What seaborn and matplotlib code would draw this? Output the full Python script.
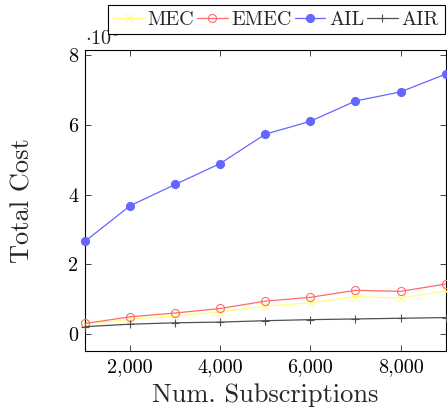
import numpy as np
import pandas as pd
import matplotlib
matplotlib.use('Agg')
import matplotlib.pyplot as plt
import seaborn as sns
from matplotlib.ticker import FuncFormatter

# ==========================================
# data (in units of 10^5)
# ==========================================
subscriptions = [1000, 2000, 3000, 4000, 5000, 6000, 7000, 8000, 9000]
cost_mec = [0.30, 0.43, 0.53, 0.64, 0.81, 0.90, 1.08, 1.04, 1.24]
cost_emec = [0.31, 0.50, 0.61, 0.74, 0.95, 1.06, 1.26, 1.23, 1.44]
cost_ail = [2.66, 3.68, 4.29, 4.89, 5.73, 6.10, 6.68, 6.94, 7.45]
cost_air = [0.22, 0.29, 0.33, 0.35, 0.39, 0.42, 0.44, 0.46, 0.48]

methods = ['MEC', 'EMEC', 'AIL', 'AIR']
df = pd.DataFrame({
    'Subscriptions': subscriptions * 4,
    'Cost': cost_mec + cost_emec + cost_ail + cost_air,
    'Method': [m for m in methods for _ in subscriptions],
})

# ==========================================
# style
# ==========================================
sns.set_style('ticks')
plt.rcParams['font.family'] = ['cmr10', 'DejaVu Serif']
plt.rcParams['mathtext.fontset'] = 'cm'
plt.rcParams['axes.formatter.use_mathtext'] = True
plt.rcParams['axes.unicode_minus'] = False

palette = {'MEC': '#ffff7a', 'EMEC': '#ff6b6b', 'AIL': '#6666ff', 'AIR': '#505050'}
markers = {'MEC': 'x', 'EMEC': 'o', 'AIL': 'o', 'AIR': '+'}

fig = plt.figure(figsize=(4.47, 4.15), dpi=100)
ax = fig.add_axes([0.190, 0.154, 0.807, 0.7255])

for m in methods:
    sub = df[df['Method'] == m]
    face = 'none' if m == 'EMEC' else palette[m]
    sns.lineplot(data=sub, x='Subscriptions', y='Cost', ax=ax, color=palette[m],
                 marker=markers[m], markersize=5.8 if m in ('EMEC', 'AIL') else 5.5,
                 markerfacecolor=face, markeredgecolor=palette[m], markeredgewidth=0.8,
                 linewidth=0.9, label=m, clip_on=False, zorder=3)

ax.set_xlim(1000, 9000)
ax.set_ylim(-0.48, 8.14)
ax.set_xticks([2000, 4000, 6000, 8000])
ax.set_yticks([0, 2, 4, 6, 8])
ax.xaxis.set_major_formatter(FuncFormatter(lambda v, p: f'{int(v):,}'))
ax.yaxis.set_major_formatter(FuncFormatter(lambda v, p: f'{int(v)}'))

ax.tick_params(direction='in', top=True, right=True, length=4, width=0.6,
               labelsize=14.5, colors='#222222', labelcolor='black', pad=5)
for s in ax.spines.values():
    s.set_linewidth(0.8)
    s.set_color('black')

ax.set_xlabel('Num. Subscriptions', fontsize=19, labelpad=5)
ax.set_ylabel('Total Cost', fontsize=19, labelpad=24)

# scale factor, partly hidden under the legend as in the original
ax.text(0.0, 1.017, r'$\cdot 10^{5}$', transform=ax.transAxes, fontsize=14.5,
        ha='left', va='baseline', clip_on=False, zorder=2)

leg = ax.legend(loc='upper right', bbox_to_anchor=(0.997, 1.1495), ncol=4,
                frameon=True, fancybox=False, fontsize=14.5, handlelength=1.5,
                handletextpad=0.2, columnspacing=0.15, borderpad=0.28,
                borderaxespad=0.0)
leg.get_frame().set_edgecolor('black')
leg.get_frame().set_linewidth(0.8)
leg.get_frame().set_facecolor('white')
leg.get_frame().set_alpha(1.0)
leg.set_zorder(10)

fig.savefig('out.png', dpi=100)
